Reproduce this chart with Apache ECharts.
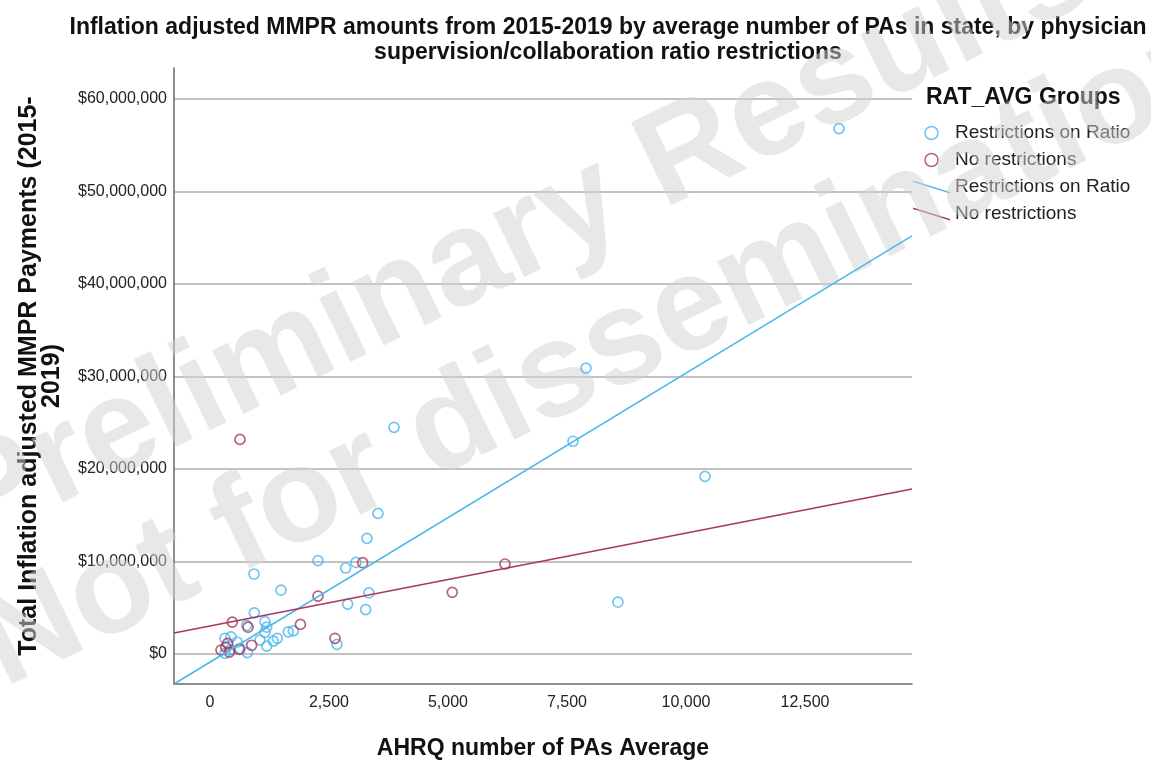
<!DOCTYPE html>
<html>
<head>
<meta charset="utf-8">
<script src="https://cdn.jsdelivr.net/npm/echarts@6/dist/echarts.min.js"></script>
<style>
  html, body { margin: 0; padding: 0; background: #ffffff; }
  #chart { width: 1151px; height: 768px; }
</style>
</head>
<body>
<div id="chart"></div>
<script>
// ---- Data ----
// Group "Restrictions on Ratio": AHRQ number of PAs (average) and total MMPR payments ($)
const restrictPAs = [13214, 7899, 7626, 10399, 8571, 3866, 3529, 3298, 2269, 2851, 3067, 3340, 2893, 3271, 1750, 2668,
                     924, 1492, 931, 1155, 1191, 770, 1155, 1645, 1414, 1330, 1191, 1050, 315, 440, 570, 630, 784, 315, 420];
const restrictPay = [56.8e6, 30.9e6, 23.0e6, 19.2e6, 5.6e6, 24.5e6, 15.2e6, 12.5e6, 10.1e6, 9.3e6, 9.9e6, 6.6e6, 5.4e6, 4.8e6, 2.5e6, 1.05e6,
                     8.65e6, 6.9e6, 4.45e6, 3.5e6, 2.9e6, 3.1e6, 2.35e6, 2.4e6, 1.7e6, 1.4e6, 0.86e6, 1.5e6, 1.7e6, 1.85e6, 1.3e6, 0.6e6, 0.15e6, 0.07e6, 0.45e6];
// Group "No restrictions"
const noRestrictPAs = [630, 3208, 6197, 5090, 2269, 1900, 2626, 469, 800, 371, 875, 616, 231, 406, 330];
const noRestrictPay = [23.2e6, 9.87e6, 9.73e6, 6.67e6, 6.27e6, 3.2e6, 1.7e6, 3.45e6, 2.9e6, 1.15e6, 0.95e6, 0.5e6, 0.43e6, 0.2e6, 0.75e6];
// Fit lines (end points at the x-range limits)
const fitX = [-756, 14748];
const fitRestrict = [-3.24e6, 45.2e6];
const fitNoRestrict = [2.27e6, 17.84e6];
// Axis ranges and tick steps
const xRange = [-756, 14748];
const yRange = [-3.24e6, 63.35e6];
const xStep = 2500;
const yStep = 10000000;

const groupNames = ['Restrictions on Ratio', 'No restrictions'];
const titleText = 'Inflation adjusted MMPR amounts from 2015-2019 by average number of PAs in state, by physician\nsupervision/collaboration ratio restrictions';
const xName = 'AHRQ number of PAs Average';
const yName = 'Total Inflation adjusted MMPR Payments (2015-\n2019)';
const legendTitle = 'RAT_AVG Groups';
const watermarkLines = ['Preliminary Results', 'Not for dissemination'];

// ---- Styles ----
const FONT = '"Liberation Sans", Arial, sans-serif';
const BLUE = '#4BB6EE';
const RED = '#A8385F';
const zip = (a, b) => a.map((v, i) => [v, b[i]]);
const lineIcon = 'path://M0,0 L37,11.6 L37,13 L0,1.4 Z';
const WM_ROT = 26 * Math.PI / 180;
const WM_STYLE = { font: 'bold 134px "Liberation Sans", Arial, sans-serif', fill: 'rgba(210,210,210,0.5)',
                   textAlign: 'center', textVerticalAlign: 'middle' };

const chart = echarts.init(document.getElementById('chart'), null, { renderer: 'canvas' });
chart.setOption({
  backgroundColor: '#ffffff',
  animation: false,
  title: [
    {
      text: titleText,
      left: 603, top: 10, textAlign: 'center', z: 0,
      textStyle: { fontFamily: FONT, fontSize: 23, fontWeight: 'bold', lineHeight: 25, color: '#111' }
    },
    {
      text: legendTitle,
      left: 921, top: 81, z: 0,
      textStyle: { fontFamily: FONT, fontSize: 23, fontWeight: 'bold', color: '#111' }
    }
  ],
  legend: {
    orient: 'vertical', left: 913, top: 123, padding: 0,
    itemWidth: 37, itemHeight: 13, itemGap: 7, selectedMode: false, z: 0,
    formatter: n => n.trim(),
    textStyle: { fontFamily: FONT, fontSize: 19, lineHeight: 20, color: '#222' },
    data: [
      { name: groupNames[0], icon: 'circle', itemStyle: { color: 'rgba(0,0,0,0)', borderColor: BLUE, borderWidth: 1.5 } },
      { name: groupNames[1], icon: 'circle', itemStyle: { color: 'rgba(0,0,0,0)', borderColor: RED, borderWidth: 1.5 } },
      { name: groupNames[0] + ' ', icon: lineIcon, itemStyle: { color: BLUE, borderWidth: 0 } },
      { name: groupNames[1] + ' ', icon: lineIcon, itemStyle: { color: RED, borderWidth: 0 } }
    ]
  },
  grid: { left: 174, right: 239, top: 68, bottom: 84, containLabel: false, outerBoundsMode: 'none' },
  xAxis: {
    type: 'value', min: xRange[0], max: xRange[1], minInterval: xStep, maxInterval: xStep,
    name: xName, nameLocation: 'middle', nameGap: 52,
    nameTextStyle: { fontFamily: FONT, fontSize: 23, fontWeight: 'bold', lineHeight: 26, color: '#111' },
    axisLine: { show: true, onZero: false, lineStyle: { color: '#6a6a6a', width: 1.5 } },
    axisTick: { show: false },
    splitLine: { show: false },
    axisLabel: {
      showMinLabel: false, showMaxLabel: false, margin: 10,
      fontFamily: FONT, fontSize: 16, lineHeight: 18, color: '#222',
      formatter: v => (Math.abs(v % xStep) < 1e-6 ? v.toLocaleString('en-US') : '')
    }
  },
  yAxis: {
    type: 'value', min: yRange[0], max: yRange[1], minInterval: yStep, maxInterval: yStep,
    name: yName, nameLocation: 'middle', nameRotate: 90, nameGap: 110,
    nameTextStyle: { fontFamily: FONT, fontSize: 25, fontWeight: 'bold', lineHeight: 23, color: '#111', align: 'center' },
    axisLine: { show: true, onZero: false, lineStyle: { color: '#6a6a6a', width: 1.5 } },
    axisTick: { show: false },
    splitLine: { show: true, showMinLine: false, showMaxLine: false, lineStyle: { color: '#c2c2c2', width: 2 } },
    axisLabel: {
      showMinLabel: false, showMaxLabel: false, margin: 7,
      fontFamily: FONT, fontSize: 16, color: '#222',
      formatter: v => (Math.abs(v % yStep) < 1e-6 ? '$' + Math.round(v).toLocaleString('en-US') : '')
    }
  },
  graphic: [
    { type: 'text', x: 520, y: 238, rotation: WM_ROT, z: 1, silent: true,
      style: Object.assign({ text: watermarkLines[0] }, WM_STYLE) },
    { type: 'text', x: 607, y: 353, rotation: WM_ROT, z: 1, silent: true,
      style: Object.assign({ text: watermarkLines[1] }, WM_STYLE) }
  ],
  series: [
    {
      name: groupNames[0], type: 'scatter', z: 2, symbol: 'circle', symbolSize: 10,
      itemStyle: { color: 'rgba(0,0,0,0)', borderColor: BLUE, borderWidth: 1.7 },
      data: zip(restrictPAs, restrictPay)
    },
    {
      name: groupNames[1], type: 'scatter', z: 2, symbol: 'circle', symbolSize: 10,
      itemStyle: { color: 'rgba(0,0,0,0)', borderColor: RED, borderWidth: 1.7 },
      data: zip(noRestrictPAs, noRestrictPay)
    },
    {
      name: groupNames[0] + ' ', type: 'line', z: 3, symbol: 'none', showSymbol: false,
      lineStyle: { color: BLUE, width: 1.5 }, itemStyle: { color: BLUE },
      data: zip(fitX, fitRestrict)
    },
    {
      name: groupNames[1] + ' ', type: 'line', z: 3, symbol: 'none', showSymbol: false,
      lineStyle: { color: RED, width: 1.5 }, itemStyle: { color: RED },
      data: zip(fitX, fitNoRestrict)
    }
  ]
});
</script>
</body>
</html>
